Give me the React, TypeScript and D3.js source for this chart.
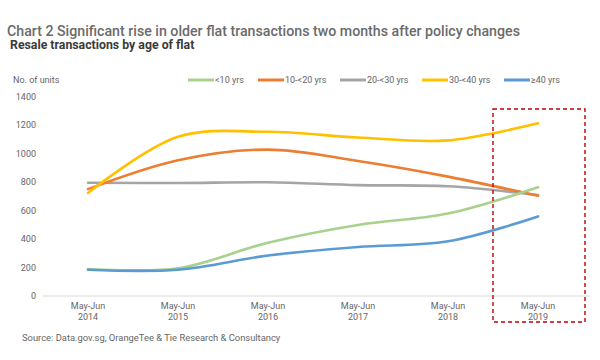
import React from 'react';
import * as d3 from 'd3';

const years = ['2014', '2015', '2016', '2017', '2018', '2019'];
const yTicks = [0, 200, 400, 600, 800, 1000, 1200, 1400];

const lt10 = [190, 195, 375, 500, 580, 765];
const y10to20 = [752, 955, 1030, 950, 840, 705];
const y20to30 = [797, 795, 800, 780, 772, 710];
const y30to40 = [725, 1120, 1155, 1115, 1095, 1215];
const ge40 = [185, 185, 285, 345, 385, 560];

const seriesNames = ['<10 yrs', '10-<20 yrs', '20-<30 yrs', '30-<40 yrs', '≥40 yrs'];
const seriesColors = ['#a9d18e', '#ed7d31', '#a5a5a5', '#ffc000', '#5b9bd5'];
const seriesValues = [lt10, y10to20, y20to30, y30to40, ge40];
const legendX = [188, 258, 340, 422, 504];

const font = 'Roboto, "Noto Sans", sans-serif';

export default function App() {
  const width = 600, height = 360;

  const x = d3.scaleBand().domain(years).range([43, 583]);
  const y = d3.scaleLinear().domain([0, 1400]).range([296, 97]);
  const cx = (yr: string) => (x(yr) as number) + x.bandwidth() / 2;

  const line = d3.line<[string, number]>()
    .x(d => cx(d[0]))
    .y(d => y(d[1]))
    .curve(d3.curveCatmullRom.alpha(0.5));

  // draw order: gray, orange, green, blue, yellow on top
  const order = [2, 1, 0, 4, 3];

  const boxLeft = cx('2019') - 45;
  const boxRight = cx('2019') + 47;

  return (
    <svg width={width} height={height} style={{ position: 'absolute', left: 0, top: 0, background: '#fff' }}>
      <text x={7} y={36} fontFamily={font} fontSize={14.2} fontWeight={500} fill="#6b6b6b">
        Chart 2 Significant rise in older flat transactions two months after policy changes
      </text>
      <text x={10} y={49} fontFamily={font} fontSize={12.3} fontWeight={700} fill="#3a3a3a">
        Resale transactions by age of flat
      </text>

      <text x={13} y={83} fontFamily={font} fontSize={9} fill="#666">No. of units</text>

      {seriesNames.map((name, i) => (
        <g key={name}>
          <line x1={legendX[i]} x2={legendX[i] + 26} y1={80} y2={80}
            stroke={seriesColors[i]} strokeWidth={3} />
          <text x={legendX[i] + 27} y={83} fontFamily={font} fontSize={9} fill="#666">{name}</text>
        </g>
      ))}

      {yTicks.map(t => (
        <text key={t} x={36} y={y(t) + 3} textAnchor="end" fontFamily={font} fontSize={9} fill="#666">{t}</text>
      ))}

      <line x1={43} x2={590} y1={y(0)} y2={y(0)} stroke="#d9d9d9" strokeWidth={1} />

      {years.map(yr => (
        <g key={yr}>
          <text x={cx(yr)} y={309} textAnchor="middle" fontFamily={font} fontSize={9} fill="#666">May-Jun</text>
          <text x={cx(yr)} y={319.5} textAnchor="middle" fontFamily={font} fontSize={9} fill="#666">{yr}</text>
        </g>
      ))}

      {order.map(i => (
        <path key={i}
          d={line(years.map((yr, k) => [yr, seriesValues[i][k]] as [string, number])) || ''}
          fill="none" stroke={seriesColors[i]} strokeWidth={2.6}
          strokeLinejoin="round" strokeLinecap="round" />
      ))}

      <rect x={boxLeft} y={109} width={boxRight - boxLeft} height={322 - 109}
        fill="none" stroke="#c00000" strokeWidth={1.4} strokeDasharray="4,3" />

      <text x={22} y={341} fontFamily={font} fontSize={9.4} fill="#666">
        Source: Data.gov.sg, OrangeTee &amp; Tie Research &amp; Consultancy
      </text>
    </svg>
  );
}
